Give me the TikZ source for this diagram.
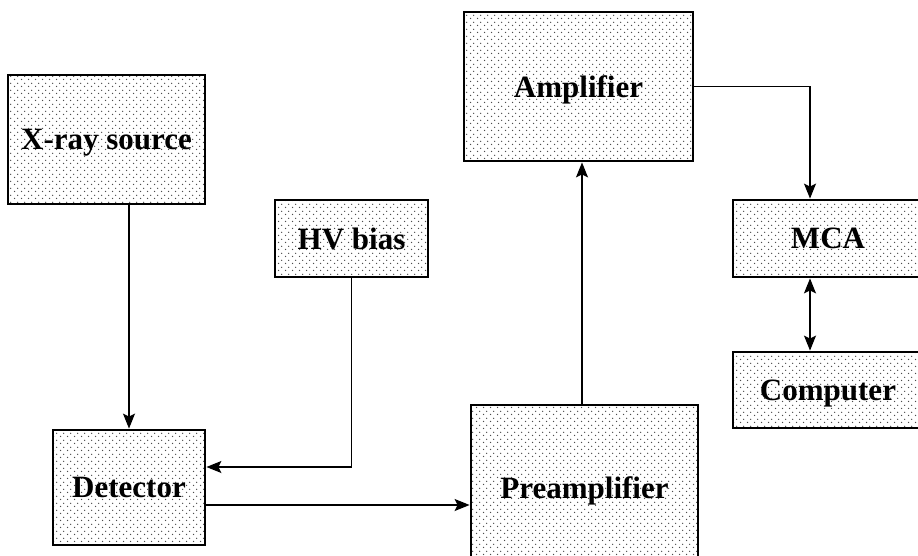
\documentclass[tikz,border=0pt]{standalone}
\usepackage{fontspec}
\setmainfont{Liberation Serif}
\usetikzlibrary{arrows.meta,patterns.meta}
\tikzdeclarepattern{
  name=stipple,
  type=uncolored,
  bounding box={(0pt,0pt) and (6.6pt,6.6pt)},
  tile size={(6.6pt,6.6pt)},
  code={
    \pgfpathcircle{\pgfpoint{1.65pt}{1.65pt}}{0.75pt}
    \pgfpathcircle{\pgfpoint{4.95pt}{4.95pt}}{0.75pt}
    \pgfusepath{fill}
  }
}
\tikzset{
  blk/.style={draw=black, line width=2.8pt, fill=white, pattern=stipple, pattern color=black!70,
    inner sep=0pt, text depth=0pt, font=\bfseries\fontsize{31}{34}\selectfont},
  tip/.tip={Stealth[length=15pt,width=12pt,inset=3pt]},
  conn/.style={line width=1.5pt, -tip},
  conn2/.style={line width=1.5pt, tip-tip}
}
\begin{document}
\begin{tikzpicture}[x=1pt,y=-1pt]
\useasboundingbox (0,0) rectangle (918,556);
\clip (0,0) rectangle (918,556);
\fill[white] (0,0) rectangle (918,556);
\node[blk, minimum width=197pt, minimum height=129pt] (xray) at (106.5,139.5) {X-ray source};
\node[blk, minimum width=153pt, minimum height=77pt] (hv) at (351.5,238.5) {HV bias};
\node[blk, minimum width=229pt, minimum height=149pt] (amp) at (578.5,86.5) {Amplifier};
\node[blk, minimum width=190pt, minimum height=77pt] (mca) at (828,238.5) {MCA};
\node[blk, minimum width=190pt, minimum height=76pt] (comp) at (828,390) {Computer};
\node[blk, minimum width=152pt, minimum height=115pt] (det) at (129,487.5) {Detector};
\node[blk, minimum width=227pt, minimum height=165pt] (pre) at (584.5,487.5) {Preamplifier};
\coordinate (hvin) at (0,467);
\coordinate (dp) at (0,505);
\coordinate (ax) at (582,0);
\coordinate (mx) at (810,0);
\draw[conn] (det.north |- xray.south) -- (det.north);
\draw[conn] (hv.south) |- (det.east |- hvin);
\draw[conn] (det.east |- dp) -- (pre.west |- dp);
\draw[conn] (ax |- pre.north) -- (ax |- amp.south);
\draw[conn] (amp.east) -| (mx |- mca.north);
\draw[conn2] (mx |- mca.south) -- (mx |- comp.north);
\end{tikzpicture}
\end{document}
